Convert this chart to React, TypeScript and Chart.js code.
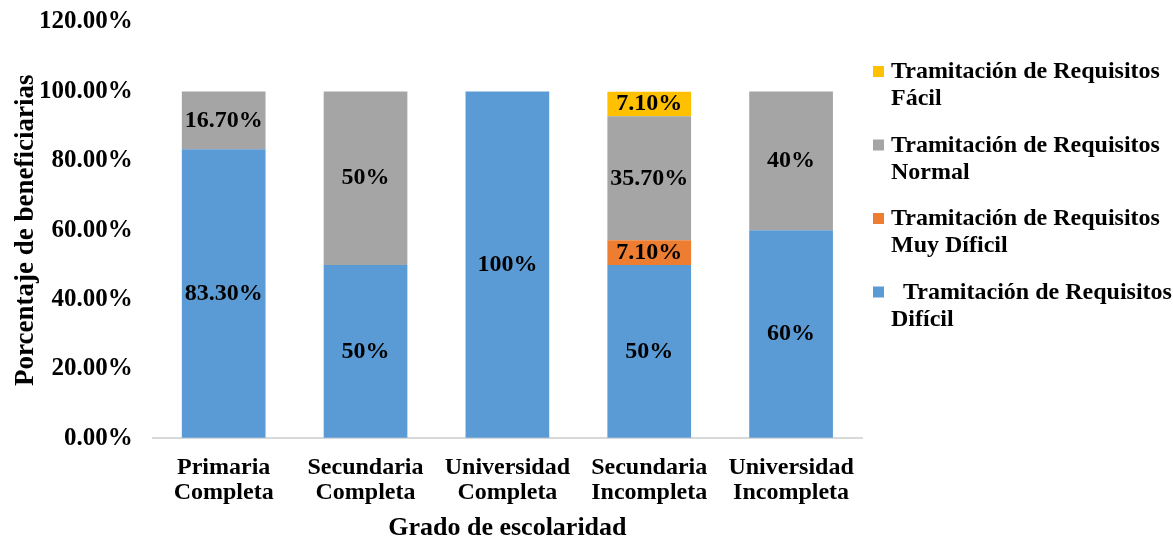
import React, { useEffect, useRef } from "react";
import { Chart, registerables } from "chart.js";

Chart.register(...registerables);

const categories: string[][] = [
  ["Primaria", "Completa"],
  ["Secundaria", "Completa"],
  ["Universidad", "Completa"],
  ["Secundaria", "Incompleta"],
  ["Universidad", "Incompleta"],
];

const seriesNames = [
  "Tramitación de Requisitos Difícil",
  "Tramitación de Requisitos Muy Díficil",
  "Tramitación de Requisitos Normal",
  "Tramitación de Requisitos Fácil",
];

const dificil = [83.3, 50, 100, 50, 60];
const muyDificil = [0, 0, 0, 7.1, 0];
const normal = [16.7, 50, 0, 35.7, 40];
const facil = [0, 0, 0, 7.1, 0];

const dificilLabels = ["83.30%", "50%", "100%", "50%", "60%"];
const muyDificilLabels = ["", "", "", "7.10%", ""];
const normalLabels = ["16.70%", "50%", "", "35.70%", "40%"];
const facilLabels = ["", "", "", "7.10%", ""];

const colors = ["#5B9BD5", "#ED7D31", "#A5A5A5", "#FFC000"];

// legend entries, top to bottom (lines)
const legendEntries: { color: string; lines: string[] }[] = [
  { color: "#FFC000", lines: ["Tramitación de Requisitos", "Fácil"] },
  { color: "#A5A5A5", lines: ["Tramitación de Requisitos", "Normal"] },
  { color: "#ED7D31", lines: ["Tramitación de Requisitos", "Muy Díficil"] },
  { color: "#5B9BD5", lines: ["  Tramitación de Requisitos", "Difícil"] },
];

const FONT = "'Liberation Serif', 'Times New Roman', serif";

export default function App() {
  const ref = useRef<HTMLCanvasElement | null>(null);

  useEffect(() => {
    if (!ref.current) return;
    const labelSets = [dificilLabels, muyDificilLabels, normalLabels, facilLabels];

    const dataLabelPlugin = {
      id: "dataLabels",
      afterDatasetsDraw(chart: any) {
        const ctx = chart.ctx;
        ctx.save();
        ctx.font = `bold 24px ${FONT}`;
        ctx.fillStyle = "#000";
        ctx.textAlign = "center";
        ctx.textBaseline = "middle";
        chart.data.datasets.forEach((ds: any, di: number) => {
          const meta = chart.getDatasetMeta(di);
          meta.data.forEach((bar: any, i: number) => {
            const txt = labelSets[di][i];
            if (!txt) return;
            const y = (bar.y + bar.base) / 2;
            ctx.fillText(txt, bar.x, y);
          });
        });
        ctx.restore();
      },
    };

    const legendPlugin = {
      id: "customLegend",
      afterDraw(chart: any) {
        const ctx = chart.ctx;
        ctx.save();
        ctx.font = `bold 24px ${FONT}`;
        ctx.textAlign = "left";
        ctx.textBaseline = "middle";
        const x0 = 873;
        let y = 72;
        legendEntries.forEach((e) => {
          ctx.fillStyle = e.color;
          ctx.fillRect(x0, y - 6, 11, 11);
          ctx.fillStyle = "#000";
          e.lines.forEach((line, li) => {
            ctx.fillText(line, 891, y + li * 27);
          });
          y += 73.5;
        });
        ctx.restore();
      },
    };

    const chart = new Chart(ref.current, {
      type: "bar",
      data: {
        labels: categories,
        datasets: [
          { label: seriesNames[0], data: dificil, backgroundColor: colors[0] },
          { label: seriesNames[1], data: muyDificil, backgroundColor: colors[1] },
          { label: seriesNames[2], data: normal, backgroundColor: colors[2] },
          { label: seriesNames[3], data: facil, backgroundColor: colors[3] },
        ],
      },
      options: {
        animation: false,
        responsive: true,
        maintainAspectRatio: false,
        datasets: { bar: { barPercentage: 1, categoryPercentage: 0.59 } },
        layout: { padding: { top: 22, right: 311, left: 13, bottom: 0 } },
        plugins: {
          legend: { display: false },
          tooltip: { enabled: false },
        },
        scales: {
          x: {
            stacked: true,
            grid: { display: false, drawTicks: false },
            border: { display: true, color: "#D9D9D9", width: 2 },
            ticks: {
              color: "#000",
              font: { family: FONT, size: 24, weight: "bold", lineHeight: 1.08 },
              padding: 16,
              maxRotation: 0,
              autoSkip: false,
            },
            title: {
              display: true,
              text: "Grado de escolaridad",
              color: "#000",
              font: { family: FONT, size: 26, weight: "bold", lineHeight: 0.8 },
              padding: { top: -4, bottom: 0 },
            },
          },
          y: {
            stacked: true,
            min: 0,
            max: 120,
            grid: {
              display: true,
              drawOnChartArea: false,
              drawTicks: true,
              tickLength: 16,
              color: "rgba(0,0,0,0)",
            },
            border: { display: false },
            ticks: {
              stepSize: 20,
              color: "#000",
              font: { family: FONT, size: 25, weight: "bold" },
              padding: 4,
              callback: (v: any) => `${Number(v).toFixed(2)}%`,
            },
            title: {
              display: true,
              text: "Porcentaje de beneficiarias",
              color: "#000",
              font: { family: FONT, size: 27, weight: "bold", lineHeight: 1.0 },
              padding: { top: 0, bottom: -5 },
            },
          },
        },
      },
      plugins: [dataLabelPlugin, legendPlugin],
    });
    return () => chart.destroy();
  }, []);

  return (
    <div style={{ position: "fixed", left: 0, top: 0, width: 1173, height: 539, background: "#fff" }}>
      <canvas ref={ref} />
    </div>
  );
}
